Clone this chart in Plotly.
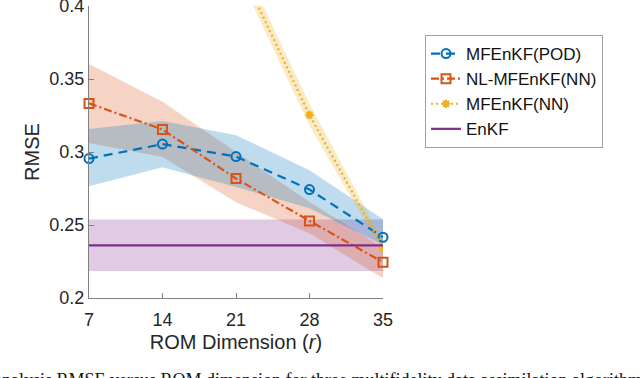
import plotly.graph_objects as go

# ---- data ----
r_dim = [7, 14, 21, 28, 35]

pod_mean = [0.2955, 0.3054, 0.2969, 0.2743, 0.2416]
pod_lo = [0.2766, 0.2896, 0.2760, 0.2615, 0.2365]
pod_hi = [0.3157, 0.3212, 0.3115, 0.2875, 0.2540]

nl_mean = [0.3333, 0.3154, 0.2818, 0.2528, 0.2245]
nl_lo = [0.3061, 0.2965, 0.2656, 0.2443, 0.2135]
nl_hi = [0.3602, 0.3344, 0.3000, 0.2658, 0.2345]

nn_mean = [0.620, 0.520, 0.432, 0.3253, 0.2345]
nn_lo = [0.610, 0.510, 0.425, 0.3180, 0.2310]
nn_hi = [0.630, 0.530, 0.439, 0.3330, 0.2390]

enkf_mean = [0.2361, 0.2361, 0.2361, 0.2361, 0.2361]
enkf_lo = [0.2185, 0.2185, 0.2185, 0.2185, 0.2185]
enkf_hi = [0.2537, 0.2537, 0.2537, 0.2537, 0.2537]

y_ticks = [0.2, 0.25, 0.3, 0.35, 0.4]
y_ticktext = ["0.2", "0.25", "0.3", "0.35", "0.4"]

caption = "analysis RMSE versus ROM dimension for three multifidelity data assimilation algorithms"

BLUE = "#0072BD"
ORANGE = "#D95319"
YELLOW = "#EDB120"
PURPLE = "#7E2F8E"


def rgba(hex_c, a):
    h = hex_c.lstrip("#")
    return "rgba(%d,%d,%d,%.2f)" % (int(h[0:2], 16), int(h[2:4], 16), int(h[4:6], 16), a)


fig = go.Figure()


def band(lo, hi, color, alpha=0.25):
    fig.add_trace(go.Scatter(
        x=r_dim + r_dim[::-1], y=hi + lo[::-1], fill="toself",
        fillcolor=rgba(color, alpha), line=dict(width=0), mode="lines",
        hoverinfo="skip", showlegend=False))


band(enkf_lo, enkf_hi, PURPLE)
band(nl_lo, nl_hi, ORANGE)
band(pod_lo, pod_hi, BLUE)
band(nn_lo, nn_hi, YELLOW)

fig.add_trace(go.Scatter(
    x=r_dim, y=pod_mean, name="MFEnKF(POD)", mode="lines+markers",
    line=dict(color=BLUE, width=2.2, dash="9px,6px"),
    marker=dict(symbol="circle-open", size=9, color=BLUE, line=dict(width=2, color=BLUE)),
    cliponaxis=False))
fig.add_trace(go.Scatter(
    x=r_dim, y=nl_mean, name="NL-MFEnKF(NN)", mode="lines+markers",
    line=dict(color=ORANGE, width=2.2, dash="8px,3px,2px,3px"),
    marker=dict(symbol="square-open", size=9, color=ORANGE, line=dict(width=2, color=ORANGE)),
    cliponaxis=False))
fig.add_trace(go.Scatter(
    x=r_dim, y=nn_mean, name="MFEnKF(NN)", mode="lines+markers",
    line=dict(color=YELLOW, width=2.2, dash="2px,3px"),
    marker=dict(symbol="asterisk-open", size=7, color=YELLOW, line=dict(width=2, color=YELLOW))))
fig.add_trace(go.Scatter(
    x=r_dim, y=enkf_mean, name="EnKF", mode="lines",
    line=dict(color=PURPLE, width=2.2), cliponaxis=False))

L, R, T, B = 89, 257, 6, 80
W, H = 640, 378
pw, ph = W - L - R, H - T - B

fig.update_layout(
    width=W, height=H,
    margin=dict(l=L, r=R, t=T, b=B, pad=0, autoexpand=False),
    paper_bgcolor="white", plot_bgcolor="white",
    font=dict(family="Liberation Sans, Arial, sans-serif", size=18, color="#262626"),
    xaxis=dict(
        range=[7, 35], tickvals=r_dim, ticks="inside", ticklen=5, tickcolor="#808080",
        showline=True, linecolor="#808080", linewidth=1, showgrid=False, zeroline=False,
        title=dict(text="ROM Dimension (<i>r</i>)", font=dict(size=20), standoff=6),
        tickfont=dict(size=18), automargin=False, ticklabeloverflow="allow",
        ticklabelstandoff=5,
    ),
    yaxis=dict(
        range=[0.2, 0.4], tickvals=y_ticks, ticktext=y_ticktext, ticks="inside", ticklen=5,
        tickcolor="#808080", showline=True, linecolor="#808080", linewidth=1,
        showgrid=False, zeroline=False,
        title=dict(text="RMSE", font=dict(size=20), standoff=4),
        tickfont=dict(size=18), automargin=False, ticklabeloverflow="allow",
    ),
    legend=dict(
        x=(425 - L) / pw, y=(H - B - 35) / ph, xanchor="left", yanchor="top",
        bordercolor="#a0a0a0", borderwidth=1, bgcolor="white",
        font=dict(size=17, color="#111111"), tracegroupgap=0, itemwidth=30,
    ),
    annotations=[dict(
        text=caption, xref="paper", yref="paper",
        x=(-8 - L) / pw, y=(H - B - 368) / ph, xanchor="left", yanchor="top",
        showarrow=False, align="left",
        font=dict(family="Liberation Serif, Times New Roman, serif", size=18, color="#111111"),
    )],
)

fig.write_html("out.html", config={"displayModeBar": False},
               post_script="document.body.style.margin='0';document.body.style.overflow='hidden';")
